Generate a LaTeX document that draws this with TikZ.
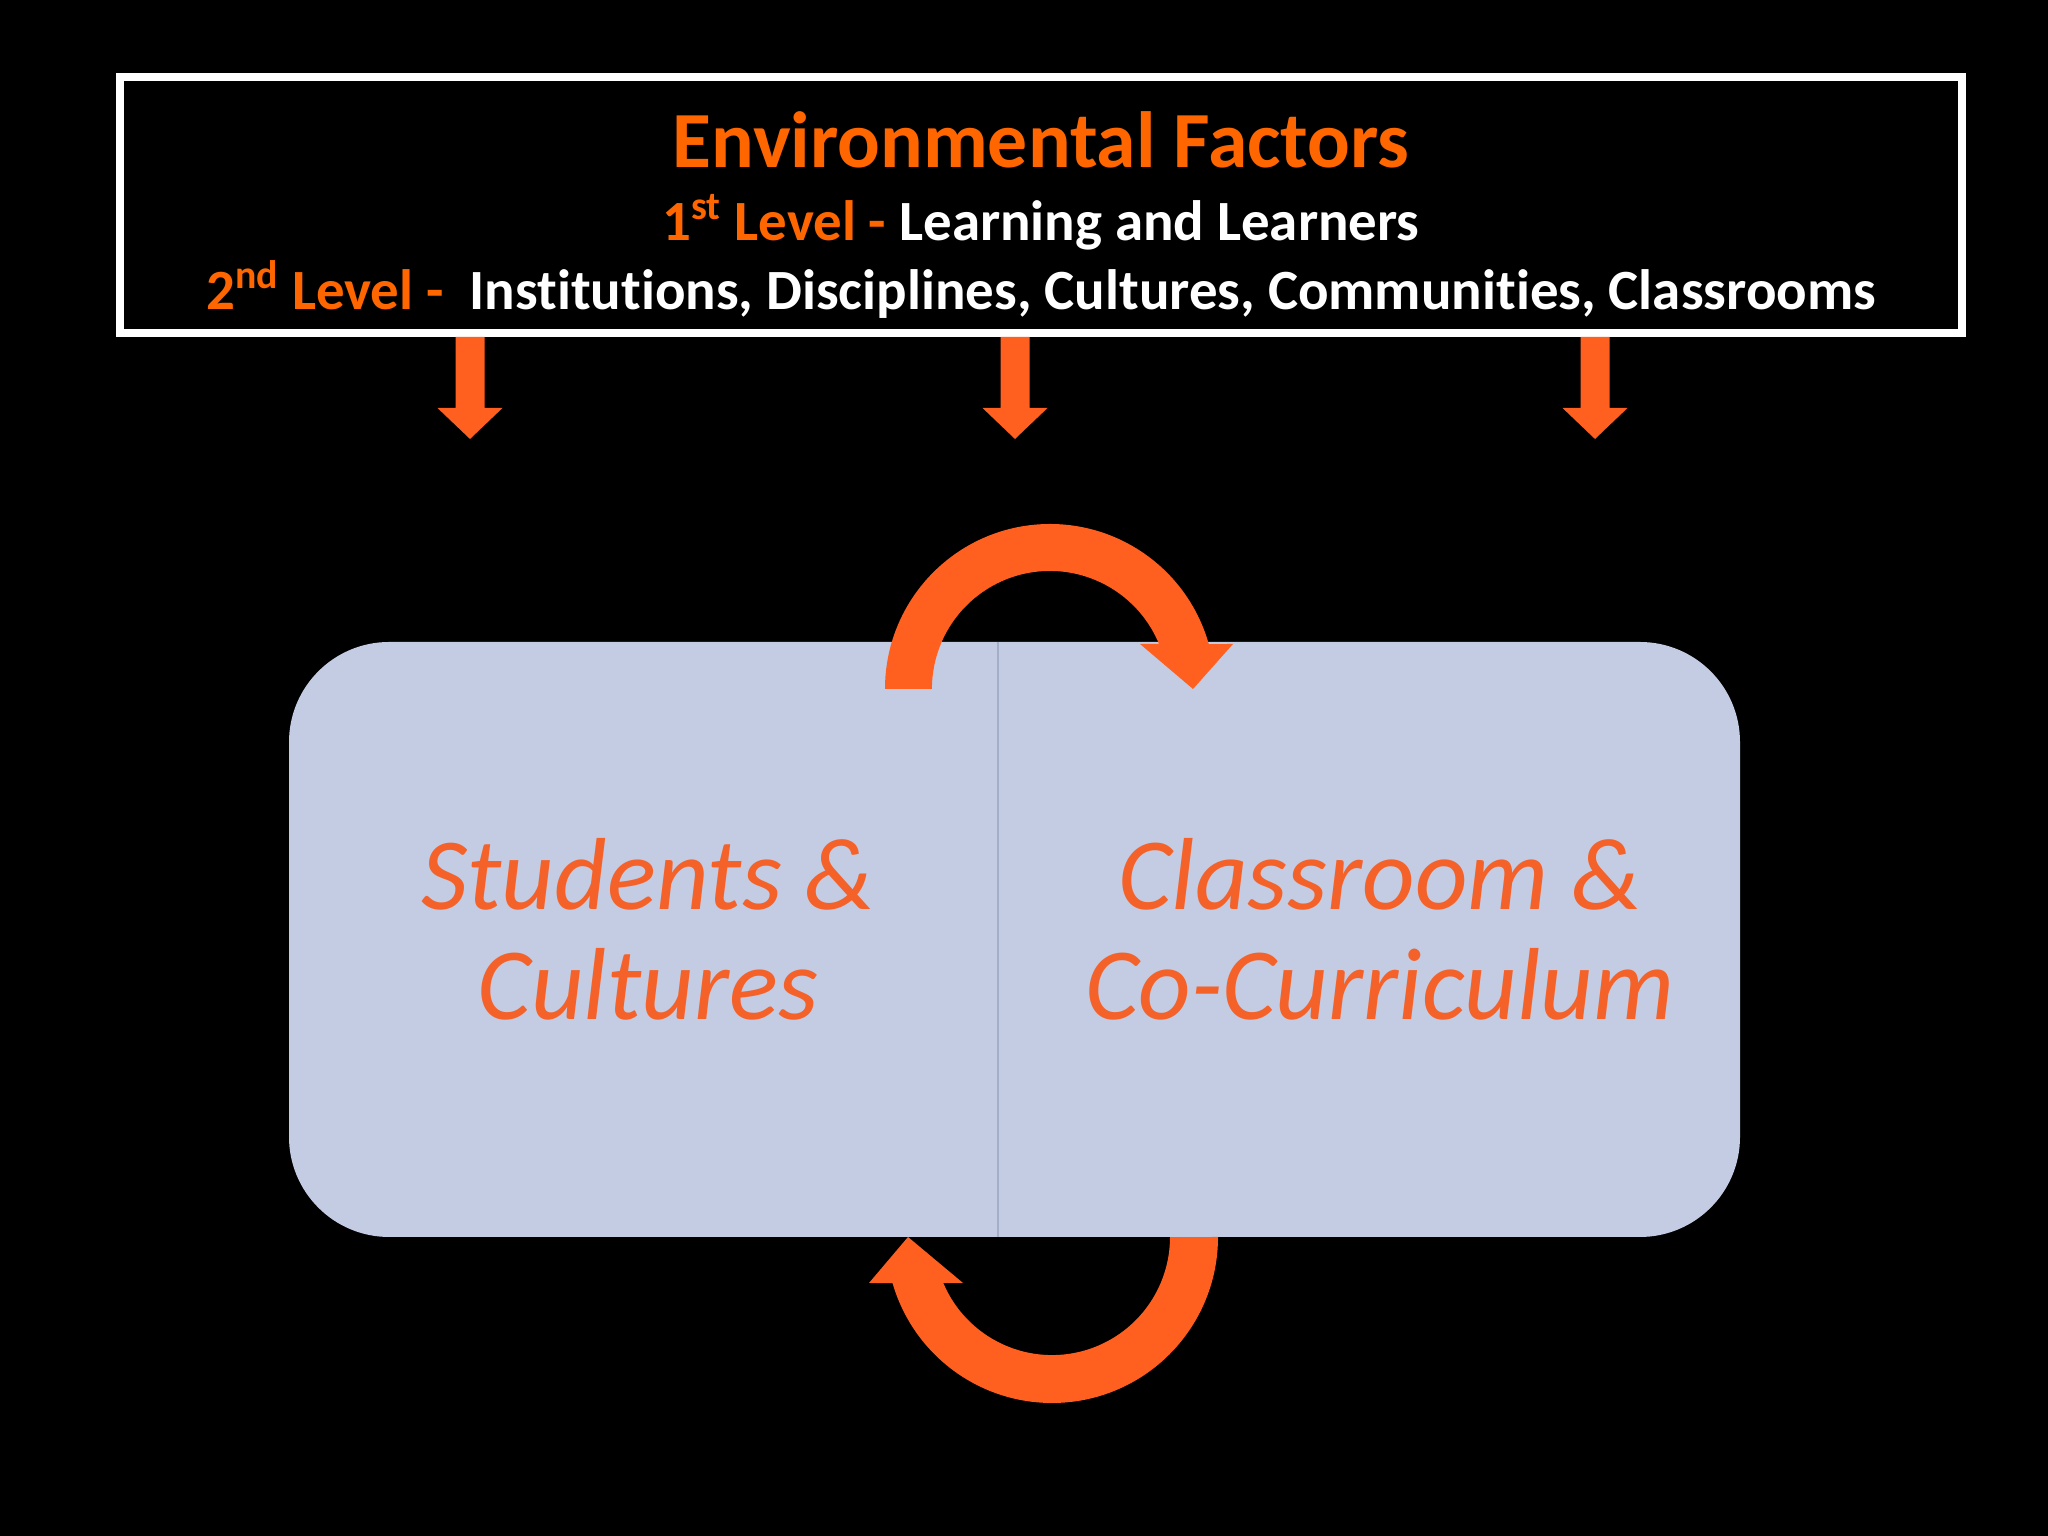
\documentclass[tikz,border=0pt]{standalone}
\usepackage{fontspec}
\setmainfont{Carlito}[Ligatures=NoCommon]
\usetikzlibrary{calc}
\definecolor{titleor}{HTML}{FF6600}
\definecolor{arrowor}{HTML}{FF5F1F}
\definecolor{textor}{HTML}{F4622A}
\definecolor{panel}{HTML}{C3CCE3}
\definecolor{divider}{HTML}{A3AEC9}
\tikzset{
  titlestyle/.style={text=titleor, font=\fontsize{28}{34}\selectfont\bfseries, inner sep=0pt},
  levelstyle/.style={text=white, font=\fontsize{20}{24}\selectfont\bfseries, inner sep=0pt},
  paneltext/.style={text=textor, font=\fontsize{36}{43}\selectfont\itshape, inner sep=0pt},
  blockarrow/.style={fill=arrowor},
  panelfill/.style={fill=panel, rounded corners=35.2pt},
}
\begin{document}
\begin{tikzpicture}[x=0.3515625pt, y=0.3515625pt]
\fill[black] (0,0) rectangle (2048,1536);
\useasboundingbox (0,0) rectangle (2048,1536);

% top box
\node (top) [draw=white, line width=2.8pt, minimum width=647.6pt, minimum height=90pt, inner sep=0pt] at (1041,1331) {};
\node[titlestyle, anchor=base] (t1) at (1041,1368) {Environmental Factors};
\node[levelstyle, anchor=base] (t2) at (1041,1295) {\textcolor{titleor}{1\textsuperscript{st} Level -} Learning and Learners};
\node[levelstyle, anchor=base] (t3) at (1041,1226) {\textcolor{titleor}{2\textsuperscript{nd} Level -}~ Institutions, Disciplines, Cultures, Communities, Classrooms};

% down arrows
\coordinate (a1) at (470,1097);
\coordinate (a2) at (1015,1097);
\coordinate (a3) at (1595,1097);
\foreach \a in {a1,a2,a3}{
  \fill[blockarrow] (\a |- top.south) ++(-14.5,0) -- ++(0,-71) -- ++(-18,0) -- (\a) -- ++(32.5,31) -- ++(-18,0) -- ++(0,71) -- cycle;
}

% panels
\path[panelfill] (289,299) rectangle (1740,894);
\draw[divider, line width=0.8pt] (998,299) -- (998,894);

\node[paneltext, anchor=base] (s1) at (648,626) {Students \&};
\node[paneltext, anchor=base] (s2) at (648,516) {Cultures};
\node[paneltext, anchor=base] (c1) at (1380,626) {Classroom \&};
\node[paneltext, anchor=base] (c2) at (1380,516) {Co-Curriculum};

% curved arrows
\fill[blockarrow] (932,847) -- (885,847) arc[start angle=180, end angle=15.8, radius=165] -- (1233,892) -- (1193,847) -- (1140,892) -- (1159,892) arc[start angle=22.4, end angle=180, radius=118] -- cycle;
\fill[blockarrow] (1218,299) arc[start angle=0, end angle=-163.9, radius=166] -- (869,253) -- (908,299) -- (963,253) -- (943.3,253) arc[start angle=-157.1, end angle=0, radius=118] -- cycle;
\end{tikzpicture}
\end{document}
